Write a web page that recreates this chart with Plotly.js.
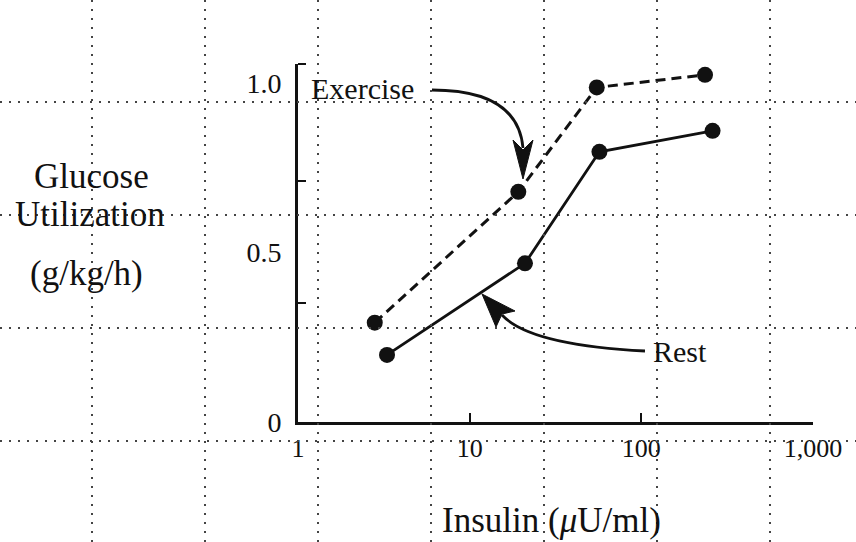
<!DOCTYPE html>
<html>
<head>
<meta charset="utf-8">
<script src="https://cdn.plot.ly/plotly-3.0.1.min.js"></script>
<style>
  html, body { margin: 0; padding: 0; background: #fff; }
  #chart { width: 856px; height: 542px; }
</style>
</head>
<body>
<div id="chart"></div>
<script>
// Insulin concentration (µU/ml) and glucose utilization (g/kg/h)
const exerciseInsulin = [2.8, 19.2, 55, 235];
const exerciseGlucose = [0.293, 0.679, 0.987, 1.024];
const restInsulin = [3.3, 21, 57, 260];
const restGlucose = [0.198, 0.468, 0.797, 0.859];

// Axis ticks
const xTickVals = [1, 10, 100, 1000];
const xTickText = ['1', '10', '100', '1,000'];
const yTickVals = [0, 0.5, 1.0];
const yTickText = ['0', '0.5', '1.0'];
const yMinorTicks = [0.351, 0.711, 1.056];

const W = 856, H = 542;
const ink = '#111';
const serif = 'Liberation Serif, Times New Roman, serif';

// Frame of the plot, in page pixels
const axLeft = 298, axRight = 813, axBottom = 422, axTop = 64;
const yUnitPx = 339; // pixels per 1.0 g/kg/h

const traces = [
  {
    x: exerciseInsulin, y: exerciseGlucose,
    type: 'scatter', mode: 'lines+markers', name: 'Exercise',
    line: { color: ink, width: 3, dash: '10px,6px' },
    marker: { color: ink, size: 16 },
    xaxis: 'x', yaxis: 'y', showlegend: false, hoverinfo: 'skip'
  },
  {
    x: restInsulin, y: restGlucose,
    type: 'scatter', mode: 'lines+markers', name: 'Rest',
    line: { color: ink, width: 2.8 },
    marker: { color: ink, size: 16 },
    xaxis: 'x', yaxis: 'y', showlegend: false, hoverinfo: 'skip'
  },
  // empty trace that carries the full-page dotted grid
  { x: [], y: [], type: 'scatter', xaxis: 'x2', yaxis: 'y2', showlegend: false, hoverinfo: 'skip' }
];

// Curved pointer arrows (page-pixel coordinates on x2/y2)
const arrowLine = { color: ink, width: 2.8 };
const shapes = [
  { type: 'path', xref: 'x2', yref: 'y2', path: 'M 432 90 Q 518 90 523 148', line: arrowLine },
  { type: 'path', xref: 'x2', yref: 'y2', path: 'M 523 179 L 513 140 L 523 150 L 533 140 Z',
    fillcolor: ink, line: { color: ink, width: 1 } },
  { type: 'path', xref: 'x2', yref: 'y2', path: 'M 645 351 Q 530 345 502 315', line: arrowLine },
  { type: 'path', xref: 'x2', yref: 'y2', path: 'M 482 294 L 496 327 L 502 314 L 515 311 Z',
    fillcolor: ink, line: { color: ink, width: 1 } }
];

function label(text, x, y, size) {
  return {
    text: text, x: x, y: y, xref: 'x2', yref: 'y2',
    showarrow: false, xanchor: 'center', yanchor: 'middle',
    font: { family: serif, size: size, color: ink }
  };
}

const annotations = [
  label('Exercise', 362, 88, 30),
  label('Rest', 680, 351, 30),
  label('Glucose', 91, 176, 35),
  label('Utilization', 90, 214, 35),
  label('(g/kg/h)', 86, 273, 35),
  label('Insulin (<i>μ</i>U/ml)', 551, 520, 35)
];

const layout = {
  width: W, height: H, autosize: false,
  margin: { l: 0, r: 0, t: 0, b: 0, pad: 0 },
  paper_bgcolor: '#fff',
  plot_bgcolor: 'rgba(0,0,0,0)',
  showlegend: false,
  xaxis: {
    type: 'log', range: [0, 3],
    domain: [axLeft / W, axRight / W], anchor: 'y',
    showgrid: false, zeroline: false,
    showline: true, linecolor: ink, linewidth: 2.8,
    ticks: 'inside', ticklen: 9, tickwidth: 2.2, tickcolor: ink,
    tickmode: 'array', tickvals: xTickVals, ticktext: xTickText,
    tickfont: { family: serif, size: 26, color: ink },
    ticklabelstandoff: 1,
    fixedrange: true
  },
  yaxis: {
    range: [0, (axBottom - axTop) / yUnitPx],
    domain: [(H - axBottom) / H, (H - axTop) / H], anchor: 'x',
    showgrid: false, zeroline: false,
    showline: true, linecolor: ink, linewidth: 2.8,
    ticks: '', tickmode: 'array', tickvals: yTickVals, ticktext: yTickText,
    tickfont: { family: serif, size: 28, color: ink },
    ticklabelstandoff: 8,
    minor: { tickmode: 'array', tickvals: yMinorTicks, ticks: 'inside', ticklen: 8, tickwidth: 2.2, tickcolor: ink, showgrid: false },
    fixedrange: true
  },
  xaxis2: {
    range: [0, W], domain: [0, 1], anchor: 'y2',
    tickmode: 'linear', tick0: 92, dtick: 113,
    showgrid: true, gridcolor: '#444', gridwidth: 1.6, griddash: '2px,7px',
    zeroline: false, showline: false, showticklabels: false, ticks: '',
    fixedrange: true
  },
  yaxis2: {
    range: [H, 0], domain: [0, 1], anchor: 'x2',
    tickmode: 'linear', tick0: 102, dtick: 113,
    showgrid: true, gridcolor: '#444', gridwidth: 1.6, griddash: '2px,7px',
    zeroline: false, showline: false, showticklabels: false, ticks: '',
    fixedrange: true
  },
  shapes: shapes,
  annotations: annotations
};

Plotly.newPlot('chart', traces, layout, { displayModeBar: false, staticPlot: true });
</script>
</body>
</html>
